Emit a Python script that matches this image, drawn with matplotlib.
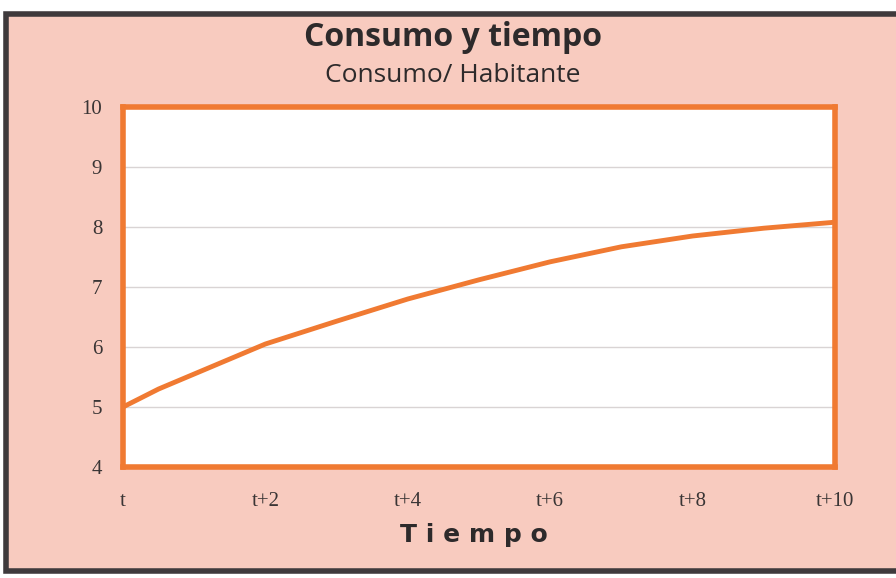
import matplotlib
matplotlib.use("Agg")
import matplotlib.pyplot as plt
from matplotlib.patches import Rectangle

# Data
periods = [0, 0.5, 1, 2, 3, 4, 5, 6, 7, 8, 9, 10]
consumo = [5.0, 5.3, 5.55, 6.05, 6.43, 6.8, 7.12, 7.42, 7.67, 7.85, 7.98, 8.08]
xtick_pos = [0, 2, 4, 6, 8, 10]
xtick_labels = ["t", "t+2", "t+4", "t+6", "t+8", "t+10"]
ytick_vals = [4, 5, 6, 7, 8, 9, 10]

title = "Consumo y tiempo"
subtitle = "Consumo/ Habitante"
xlabel = "T i e m p o"

pink = "#f8cbbf"
orange = "#f07a32"

fig = plt.figure(figsize=(8.96, 5.78), dpi=100)
fig.patch.set_facecolor("white")

# pink panel with dark frame
W, H = 896, 578
panel = Rectangle((6 / W, 1 - 571 / H), (W + 20) / W, (571 - 14) / H,
                  transform=fig.transFigure, facecolor=pink,
                  edgecolor="#3f3a3c", linewidth=4, zorder=-10)
fig.patches.append(panel)

ax = fig.add_axes([123 / W, 1 - 467 / H, (835 - 123) / W, (467 - 107) / H])
ax.set_zorder(1)
ax.set_facecolor("white")
ax.plot(periods, consumo, color=orange, linewidth=3.5, solid_capstyle="round", zorder=3)

ax.set_xlim(0, 10)
ax.set_ylim(4, 10)
ax.set_yticks(ytick_vals)
ax.set_xticks(xtick_pos)
ax.set_xticklabels(xtick_labels)
ax.grid(axis="y", color="#d9d4d4", linewidth=1)
ax.grid(axis="x", visible=False)
ax.tick_params(length=0)
ax.tick_params(axis="x", pad=18)
ax.tick_params(axis="y", pad=15)
for lab in ax.get_xticklabels() + ax.get_yticklabels():
    lab.set_fontfamily("Liberation Serif")
    lab.set_fontsize(15)
    lab.set_color("#3a3535")
for s in ax.spines.values():
    s.set_color(orange)
    s.set_linewidth(4)

fig.text(453 / W, 1 - 38 / H, title, ha="center", va="center",
         fontsize=23, fontweight="bold", family="Open Sans", color="#2d2a2b")
fig.text(453 / W, 1 - 75 / H, subtitle, ha="center", va="center",
         fontsize=19, family="Open Sans", color="#2d2a2b")
fig.text(474 / W, 1 - 535 / H, xlabel, ha="center", va="center",
         fontsize=18, fontweight="bold", family="DejaVu Sans", color="#2d2a2b")

fig.savefig("out.png", dpi=100, facecolor=fig.get_facecolor())
